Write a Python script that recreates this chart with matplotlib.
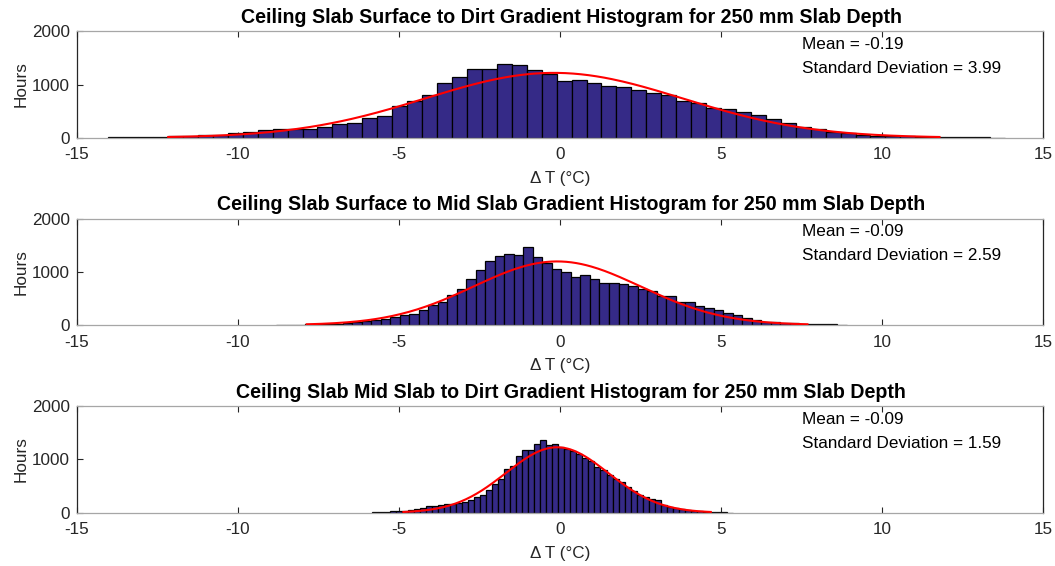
import numpy as np
import matplotlib
matplotlib.use("Agg")
import matplotlib.pyplot as plt

plt.rcParams['font.family'] = ['Liberation Sans', 'DejaVu Sans']
plt.rcParams['axes.unicode_minus'] = False

# Hourly temperature differences, 60-bin histograms (hours per bin)
titles = [
    "Ceiling Slab Surface to Dirt Gradient Histogram for 250 mm Slab Depth",
    "Ceiling Slab Surface to Mid Slab Gradient Histogram for 250 mm Slab Depth",
    "Ceiling Slab Mid Slab to Dirt Gradient Histogram for 250 mm Slab Depth",
]

# data range (min, max) of each difference series
range_surface_dirt = (-14.02, 13.81)
range_surface_mid = (-8.81, 8.90)
range_mid_dirt = (-5.83, 5.36)

counts_surface_dirt = [
    12, 18, 12, 18, 25, 30, 43, 56, 93, 105,
    150, 155, 161, 167, 210, 260, 285, 378, 415, 595,
    682, 806, 1023, 1140, 1283, 1283, 1390, 1364, 1265, 1197,
    1073, 1085, 1035, 967, 949, 893, 843, 806, 688, 651,
    558, 533, 490, 422, 353, 279, 198, 155, 112, 81,
    56, 37, 31, 25, 19, 19, 12, 8, 5, 3,
]
counts_surface_mid = [
    5, 6, 8, 10, 12, 15, 19, 31, 50, 75,
    87, 112, 144, 187, 200, 275, 375, 437, 562, 669,
    856, 1025, 1194, 1300, 1337, 1325, 1462, 1281, 1156, 1044,
    990, 897, 931, 856, 794, 781, 769, 725, 675, 631,
    550, 550, 425, 431, 350, 319, 275, 219, 187, 137,
    94, 62, 50, 37, 31, 25, 19, 12, 12, 6,
]
counts_mid_dirt = [
    6, 6, 12, 25, 25, 31, 56, 75, 94, 119,
    125, 137, 156, 169, 181, 194, 244, 287, 337, 419,
    531, 625, 812, 881, 1069, 1187, 1175, 1300, 1362, 1269,
    1300, 1237, 1206, 1162, 1094, 1019, 975, 862, 800, 706,
    637, 575, 475, 412, 331, 287, 256, 237, 150, 112,
    81, 62, 50, 31, 25, 19, 12, 10, 6, 3,
]

means = [-0.19, -0.09, -0.09]
stds = [3.99, 2.59, 1.59]
total_hours = 26280  # three years of hourly samples

x_ticks = [-15, -10, -5, 0, 5, 10, 15]
y_ticks = [0, 1000, 2000]

ranges = [range_surface_dirt, range_surface_mid, range_mid_dirt]
counts = [counts_surface_dirt, counts_surface_mid, counts_mid_dirt]

bar_color = (0.2081, 0.1663, 0.5292)
dark = '#262626'
grey = '#a6a6a6'

fig = plt.figure(figsize=(10.55, 5.66), dpi=100)
ax_left, ax_width, ax_height = 0.0727, 0.9162, 0.1880
bottoms = [0.7567, 0.4258, 0.0942]

for i in range(3):
    ax = fig.add_axes([ax_left, bottoms[i], ax_width, ax_height])
    lo, hi = ranges[i]
    c = np.asarray(counts[i], dtype=float)
    edges = np.linspace(lo, hi, len(c) + 1)
    width = edges[1] - edges[0]
    ax.bar(edges[:-1], c, width=width, align='edge', color=bar_color,
           edgecolor='black', linewidth=0.9, zorder=2)

    # fitted normal curve over mean +/- 3 std
    mu, sd = means[i], stds[i]
    xs = np.linspace(mu - 3 * sd, mu + 3 * sd, 300)
    pdf = np.exp(-0.5 * ((xs - mu) / sd) ** 2) / (sd * np.sqrt(2 * np.pi))
    ax.plot(xs, pdf * total_hours * width, color='red', linewidth=1.5, zorder=3)

    ax.set_xlim(-15, 15)
    ax.set_ylim(0, 2000)
    ax.set_xticks(x_ticks)
    ax.set_yticks(y_ticks)
    ax.tick_params(axis='both', direction='in', length=4, width=0.8,
                   labelsize=12.3, colors=dark, labelcolor=dark)
    ax.tick_params(axis='x', top=True, pad=7)
    ax.tick_params(axis='y', right=False, pad=5)
    for side in ('left', 'right'):
        ax.spines[side].set_color(dark)
        ax.spines[side].set_linewidth(0.9)
    for side in ('top', 'bottom'):
        ax.spines[side].set_color(grey)
        ax.spines[side].set_linewidth(0.9)

    ax.set_title(titles[i], fontsize=14.1, fontweight='bold', pad=6,
                 color='black', x=0.5115)
    ax.set_ylabel("Hours", fontsize=12.3, color=dark, labelpad=2)
    ax.set_xlabel("Δ T (°C)", fontsize=12.3, color=dark, labelpad=6)

    ax.text(7.5, 1750, f"Mean = {mu:.2f}", fontsize=12.3, color='black', va='center')
    ax.text(7.5, 1300, f"Standard Deviation = {sd:.2f}", fontsize=12.3,
            color='black', va='center')

fig.savefig("out.png", dpi=100)
